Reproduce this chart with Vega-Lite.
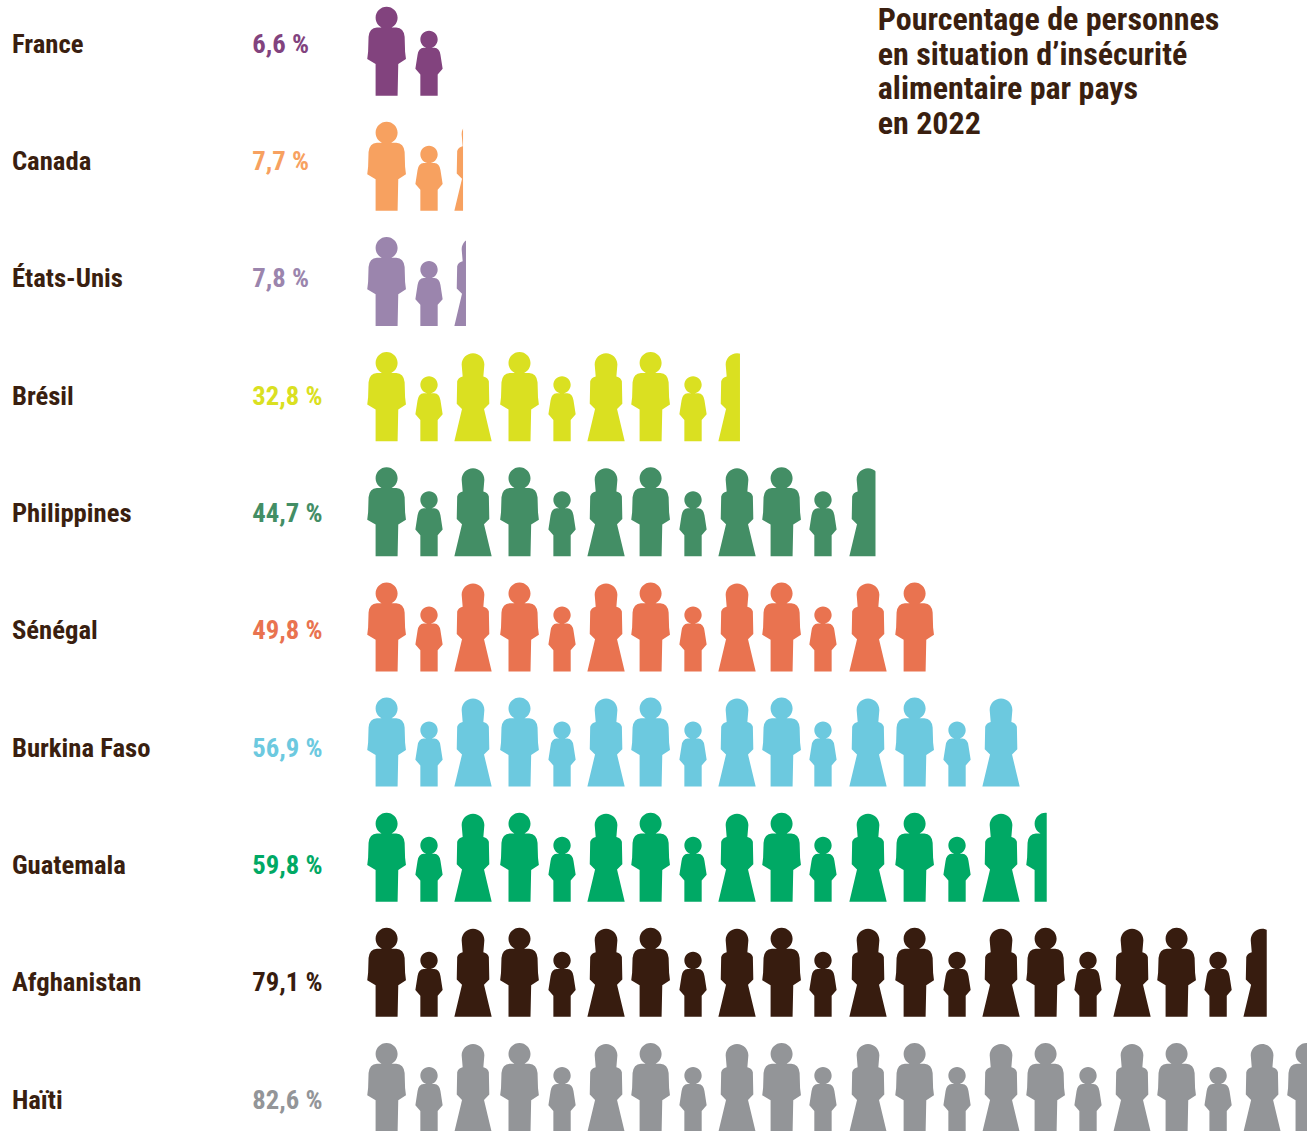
{"$schema":"https://vega.github.io/schema/vega-lite/v6.json","width":1307,"height":1131,"padding":0,"autosize":{"type":"none"},"background":"#ffffff","config":{"view":{"stroke":null}},
"datasets":{
"rows":[
{"country":"France","rank":0,"value":6.6,"end":6.65,"label":"6,6 %"},
{"country":"Canada","rank":1,"value":7.7,"end":8.38,"label":"7,7 %"},
{"country":"États-Unis","rank":2,"value":7.8,"end":8.64,"label":"7,8 %"},
{"country":"Brésil","rank":3,"value":32.8,"end":32.8,"label":"32,8 %"},
{"country":"Philippines","rank":4,"value":44.7,"end":44.75,"label":"44,7 %"},
{"country":"Sénégal","rank":5,"value":49.8,"end":50.0,"label":"49,8 %"},
{"country":"Burkina Faso","rank":6,"value":56.9,"end":57.6,"label":"56,9 %"},
{"country":"Guatemala","rank":7,"value":59.8,"end":59.85,"label":"59,8 %"},
{"country":"Afghanistan","rank":8,"value":79.1,"end":79.25,"label":"79,1 %"},
{"country":"Haïti","rank":9,"value":82.6,"end":83.0,"label":"82,6 %"}],
"icons":[
{"country":"France","rank":0,"kind":"homme","pos":1.64},{"country":"France","rank":0,"kind":"enfant","pos":5.38},
{"country":"Canada","rank":1,"kind":"homme","pos":1.64},{"country":"Canada","rank":1,"kind":"enfant","pos":5.38},{"country":"Canada","rank":1,"kind":"femme","pos":9.26},
{"country":"États-Unis","rank":2,"kind":"homme","pos":1.64},{"country":"États-Unis","rank":2,"kind":"enfant","pos":5.38},{"country":"États-Unis","rank":2,"kind":"femme","pos":9.26},
{"country":"Brésil","rank":3,"kind":"homme","pos":1.64},{"country":"Brésil","rank":3,"kind":"enfant","pos":5.38},{"country":"Brésil","rank":3,"kind":"femme","pos":9.26},{"country":"Brésil","rank":3,"kind":"homme","pos":13.36},{"country":"Brésil","rank":3,"kind":"enfant","pos":17.11},{"country":"Brésil","rank":3,"kind":"femme","pos":20.99},{"country":"Brésil","rank":3,"kind":"homme","pos":24.92},{"country":"Brésil","rank":3,"kind":"enfant","pos":28.66},{"country":"Brésil","rank":3,"kind":"femme","pos":32.54},
{"country":"Philippines","rank":4,"kind":"homme","pos":1.64},{"country":"Philippines","rank":4,"kind":"enfant","pos":5.38},{"country":"Philippines","rank":4,"kind":"femme","pos":9.26},{"country":"Philippines","rank":4,"kind":"homme","pos":13.36},{"country":"Philippines","rank":4,"kind":"enfant","pos":17.11},{"country":"Philippines","rank":4,"kind":"femme","pos":20.99},{"country":"Philippines","rank":4,"kind":"homme","pos":24.92},{"country":"Philippines","rank":4,"kind":"enfant","pos":28.66},{"country":"Philippines","rank":4,"kind":"femme","pos":32.54},{"country":"Philippines","rank":4,"kind":"homme","pos":36.47},{"country":"Philippines","rank":4,"kind":"enfant","pos":40.12},{"country":"Philippines","rank":4,"kind":"femme","pos":44.09},
{"country":"Sénégal","rank":5,"kind":"homme","pos":1.64},{"country":"Sénégal","rank":5,"kind":"enfant","pos":5.38},{"country":"Sénégal","rank":5,"kind":"femme","pos":9.26},{"country":"Sénégal","rank":5,"kind":"homme","pos":13.36},{"country":"Sénégal","rank":5,"kind":"enfant","pos":17.11},{"country":"Sénégal","rank":5,"kind":"femme","pos":20.99},{"country":"Sénégal","rank":5,"kind":"homme","pos":24.92},{"country":"Sénégal","rank":5,"kind":"enfant","pos":28.66},{"country":"Sénégal","rank":5,"kind":"femme","pos":32.54},{"country":"Sénégal","rank":5,"kind":"homme","pos":36.47},{"country":"Sénégal","rank":5,"kind":"enfant","pos":40.12},{"country":"Sénégal","rank":5,"kind":"femme","pos":44.09},{"country":"Sénégal","rank":5,"kind":"homme","pos":48.2},
{"country":"Burkina Faso","rank":6,"kind":"homme","pos":1.64},{"country":"Burkina Faso","rank":6,"kind":"enfant","pos":5.38},{"country":"Burkina Faso","rank":6,"kind":"femme","pos":9.26},{"country":"Burkina Faso","rank":6,"kind":"homme","pos":13.36},{"country":"Burkina Faso","rank":6,"kind":"enfant","pos":17.11},{"country":"Burkina Faso","rank":6,"kind":"femme","pos":20.99},{"country":"Burkina Faso","rank":6,"kind":"homme","pos":24.92},{"country":"Burkina Faso","rank":6,"kind":"enfant","pos":28.66},{"country":"Burkina Faso","rank":6,"kind":"femme","pos":32.54},{"country":"Burkina Faso","rank":6,"kind":"homme","pos":36.47},{"country":"Burkina Faso","rank":6,"kind":"enfant","pos":40.12},{"country":"Burkina Faso","rank":6,"kind":"femme","pos":44.09},{"country":"Burkina Faso","rank":6,"kind":"homme","pos":48.2},{"country":"Burkina Faso","rank":6,"kind":"enfant","pos":51.94},{"country":"Burkina Faso","rank":6,"kind":"femme","pos":55.82},
{"country":"Guatemala","rank":7,"kind":"homme","pos":1.64},{"country":"Guatemala","rank":7,"kind":"enfant","pos":5.38},{"country":"Guatemala","rank":7,"kind":"femme","pos":9.26},{"country":"Guatemala","rank":7,"kind":"homme","pos":13.36},{"country":"Guatemala","rank":7,"kind":"enfant","pos":17.11},{"country":"Guatemala","rank":7,"kind":"femme","pos":20.99},{"country":"Guatemala","rank":7,"kind":"homme","pos":24.92},{"country":"Guatemala","rank":7,"kind":"enfant","pos":28.66},{"country":"Guatemala","rank":7,"kind":"femme","pos":32.54},{"country":"Guatemala","rank":7,"kind":"homme","pos":36.47},{"country":"Guatemala","rank":7,"kind":"enfant","pos":40.12},{"country":"Guatemala","rank":7,"kind":"femme","pos":44.09},{"country":"Guatemala","rank":7,"kind":"homme","pos":48.2},{"country":"Guatemala","rank":7,"kind":"enfant","pos":51.94},{"country":"Guatemala","rank":7,"kind":"femme","pos":55.82},{"country":"Guatemala","rank":7,"kind":"homme","pos":59.75},
{"country":"Afghanistan","rank":8,"kind":"homme","pos":1.64},{"country":"Afghanistan","rank":8,"kind":"enfant","pos":5.38},{"country":"Afghanistan","rank":8,"kind":"femme","pos":9.26},{"country":"Afghanistan","rank":8,"kind":"homme","pos":13.36},{"country":"Afghanistan","rank":8,"kind":"enfant","pos":17.11},{"country":"Afghanistan","rank":8,"kind":"femme","pos":20.99},{"country":"Afghanistan","rank":8,"kind":"homme","pos":24.92},{"country":"Afghanistan","rank":8,"kind":"enfant","pos":28.66},{"country":"Afghanistan","rank":8,"kind":"femme","pos":32.54},{"country":"Afghanistan","rank":8,"kind":"homme","pos":36.47},{"country":"Afghanistan","rank":8,"kind":"enfant","pos":40.12},{"country":"Afghanistan","rank":8,"kind":"femme","pos":44.09},{"country":"Afghanistan","rank":8,"kind":"homme","pos":48.2},{"country":"Afghanistan","rank":8,"kind":"enfant","pos":51.94},{"country":"Afghanistan","rank":8,"kind":"femme","pos":55.82},{"country":"Afghanistan","rank":8,"kind":"homme","pos":59.75},{"country":"Afghanistan","rank":8,"kind":"enfant","pos":63.49},{"country":"Afghanistan","rank":8,"kind":"femme","pos":67.37},{"country":"Afghanistan","rank":8,"kind":"homme","pos":71.3},{"country":"Afghanistan","rank":8,"kind":"enfant","pos":74.96},{"country":"Afghanistan","rank":8,"kind":"femme","pos":78.84},
{"country":"Haïti","rank":9,"kind":"homme","pos":1.64},{"country":"Haïti","rank":9,"kind":"enfant","pos":5.38},{"country":"Haïti","rank":9,"kind":"femme","pos":9.26},{"country":"Haïti","rank":9,"kind":"homme","pos":13.36},{"country":"Haïti","rank":9,"kind":"enfant","pos":17.11},{"country":"Haïti","rank":9,"kind":"femme","pos":20.99},{"country":"Haïti","rank":9,"kind":"homme","pos":24.92},{"country":"Haïti","rank":9,"kind":"enfant","pos":28.66},{"country":"Haïti","rank":9,"kind":"femme","pos":32.54},{"country":"Haïti","rank":9,"kind":"homme","pos":36.47},{"country":"Haïti","rank":9,"kind":"enfant","pos":40.12},{"country":"Haïti","rank":9,"kind":"femme","pos":44.09},{"country":"Haïti","rank":9,"kind":"homme","pos":48.2},{"country":"Haïti","rank":9,"kind":"enfant","pos":51.94},{"country":"Haïti","rank":9,"kind":"femme","pos":55.82},{"country":"Haïti","rank":9,"kind":"homme","pos":59.75},{"country":"Haïti","rank":9,"kind":"enfant","pos":63.49},{"country":"Haïti","rank":9,"kind":"femme","pos":67.37},{"country":"Haïti","rank":9,"kind":"homme","pos":71.3},{"country":"Haïti","rank":9,"kind":"enfant","pos":74.96},{"country":"Haïti","rank":9,"kind":"femme","pos":78.84},{"country":"Haïti","rank":9,"kind":"homme","pos":82.76}],
"heading":[{"text":"Pourcentage de personnes\nen situation d’insécurité\nalimentaire par pays\nen 2022"}]},
"resolve":{"scale":{"y":"independent"}},
"layer":[
{"data":{"name":"icons"},"mark":{"type":"point","filled":true,"size":7744,"opacity":1,"strokeWidth":0},
"encoding":{"x":{"field":"pos","type":"quantitative","axis":null,"scale":{"domain":[-32.45,82.8],"nice":false,"zero":false}},
"y":{"field":"rank","type":"quantitative","axis":null,"scale":{"domain":[0,9],"range":[51.7,1088],"nice":false,"zero":false}},
"shape":{"field":"kind","type":"nominal","legend":null,"scale":{"domain":["homme","enfant","femme"],"range":[
"M-0.25 -0.773A0.25 0.25 0 1 1 0.25 -0.773A0.25 0.25 0 1 1 -0.25 -0.773ZM-0.22 -0.55L0.22 -0.55Q0.39 -0.54 0.41 -0.34L0.42 0L0.44 0.167L0.265 0.28L0.25 1L-0.25 1L-0.25 0.28L-0.44 0.167L-0.42 0L-0.41 -0.34Q-0.39 -0.54 -0.22 -0.55Z",
"M-0.197 -0.28A0.197 0.197 0 1 1 0.197 -0.28A0.197 0.197 0 1 1 -0.197 -0.28ZM-0.12 -0.09L0.12 -0.09Q0.24 -0.08 0.26 0.07L0.31 0.39L0.197 0.52L0.197 1L-0.197 1L-0.197 0.52L-0.31 0.39L-0.26 0.07Q-0.24 -0.08 -0.12 -0.09Z",
"M-0.258 -0.742A0.258 0.258 0 1 1 0.258 -0.742L0.235 -0.47Q0.34 -0.44 0.36 -0.36L0.37 0.15L0.25 0.27L0.424 1L-0.424 1L-0.25 0.27L-0.37 0.15L-0.36 -0.36Q-0.34 -0.44 -0.235 -0.47Z"]}},
"color":{"field":"country","type":"nominal","legend":null,"scale":{"domain":["France","Canada","États-Unis","Brésil","Philippines","Sénégal","Burkina Faso","Guatemala","Afghanistan","Haïti"],"range":["#82437e","#f7a160","#9b85ad","#dae021","#438e65","#e97350","#6cc9df","#00a965","#371c0f","#939598"]}}}},
{"data":{"name":"rows"},"mark":{"type":"rule","color":"#ffffff","strokeWidth":104,"strokeCap":"butt"},
"encoding":{"x":{"field":"end","type":"quantitative"},"x2":{"datum":83.5},
"y":{"field":"rank","type":"quantitative","axis":null,"scale":{"domain":[0,9],"range":[51.7,1088],"nice":false,"zero":false}}}},
{"data":{"name":"rows"},"mark":{"type":"text","align":"left","baseline":"middle","font":"Roboto Condensed, Liberation Sans Narrow, Roboto","fontWeight":"bold","fontSize":26.7},
"encoding":{"x":{"datum":-31.4},"y":{"field":"rank","type":"quantitative","axis":null,"scale":{"domain":[0,9],"range":[44.5,1100.5],"nice":false,"zero":false}},"text":{"field":"country"},"color":{"value":"#3a1f10"}}},
{"data":{"name":"rows"},"mark":{"type":"text","align":"left","baseline":"middle","font":"Roboto Condensed, Liberation Sans Narrow, Roboto","fontWeight":"bold","fontSize":26.7},
"encoding":{"x":{"datum":-10.2},"y":{"field":"rank","type":"quantitative","axis":null,"scale":{"domain":[0,9],"range":[44.5,1100.5],"nice":false,"zero":false}},"text":{"field":"label"},
"color":{"field":"country","type":"nominal","legend":null}}},
{"data":{"name":"heading"},"mark":{"type":"text","align":"left","baseline":"top","lineBreak":"\n","lineHeight":34.6,"font":"Roboto Condensed, Liberation Sans Narrow, Roboto","fontWeight":"bold","fontSize":32},
"encoding":{"x":{"datum":44.95},"y":{"datum":0,"type":"quantitative","axis":null,"scale":{"domain":[0,9],"range":[5,1099],"nice":false,"zero":false}},"text":{"field":"text"},"color":{"value":"#3a1f10"}}}
]}
